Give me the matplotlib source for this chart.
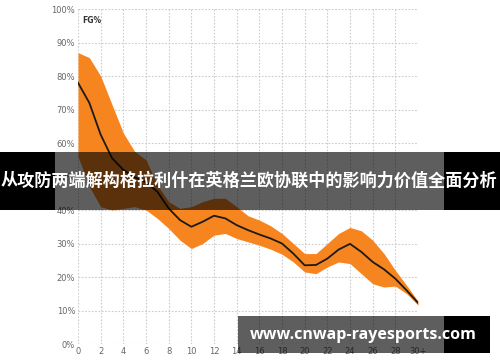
import matplotlib
matplotlib.use('Agg')
import matplotlib.pyplot as plt
from matplotlib.patches import Rectangle
import numpy as np

# shot distance (ft.), FG% center line and band edges
dist = np.arange(0, 31)
fg_mid = [78, 72, 62.5, 55.5, 52, 49.8, 48.3, 45.5, 40.5, 37, 35, 36.5, 38.3, 37.5, 35.5, 34,
          32.7, 31.5, 30, 27, 23.5, 23.6, 25.5, 28.2, 29.9, 27.5, 24.5, 22.3, 19.5, 16, 12.3]
fg_upper = [87, 85.5, 80, 71.5, 63, 57.5, 55, 47.5, 42.5, 40.5, 41, 42.5, 43.5, 43.5, 41, 38.3,
            37, 35.3, 33, 30, 27, 27, 30, 33, 34.8, 33.8, 31, 27, 22, 17.5, 12.8]
fg_lower = [56, 47, 41, 40, 40.5, 41, 40, 37.5, 34.5, 31, 28.5, 30, 32.5, 33, 31.5, 30.5,
            29.5, 28.3, 26.8, 24.5, 21.5, 21, 23, 24.5, 24, 21, 18, 17, 17.3, 15, 11.6]
x_ticks = list(range(0, 31, 2))
x_labels = [str(v) for v in range(0, 30, 2)] + ['30+']
y_ticks = list(range(0, 101, 10))
y_labels = [str(v) + '%' for v in y_ticks]

title = '从攻防两端解构格拉利什在英格兰欧协联中的影响力价值全面分析'
site = 'www.cnwap-rayesports.com'

fig = plt.figure(figsize=(5, 3.62), dpi=100)
ax = fig.add_axes([0.156, 0.0497, 0.68, 0.9253])

ax.fill_between(dist, fg_lower, fg_upper, color='#f7851f', lw=0, zorder=2)
ax.plot(dist, fg_mid, color='#1a1a1a', lw=1.3, zorder=3, solid_joinstyle='round')

ax.set_xlim(0, 30)
ax.set_ylim(0, 100)
ax.set_xticks(x_ticks)
ax.set_xticklabels(x_labels)
ax.set_yticks(y_ticks)
ax.set_yticklabels(y_labels)
ax.tick_params(length=0, labelsize=6, colors='#666666', pad=2)
for s in ax.spines.values():
    s.set_visible(False)
ax.grid(True, color='#cccccc', ls=(0, (1.5, 1.5)), lw=0.8, zorder=0)
ax.set_axisbelow(True)
ax.text(0.4, 98, 'FG%', fontsize=5.5, fontweight='bold', color='#333333', va='top', ha='left')

# title banner (semi transparent over the image, black on the sides)
W, H = 500.0, 362.0
def band(x0, x1, y0, y1, alpha):
    fig.add_artist(Rectangle((x0 / W, 1 - y1 / H), (x1 - x0) / W, (y1 - y0) / H,
                             transform=fig.transFigure, facecolor='black', alpha=alpha,
                             lw=0, zorder=10))

band(0, 55, 152, 210, 1.0)
band(55, 444, 152, 210, 0.63)
band(444, 500, 152, 210, 1.0)
fig.text(0.497, 1 - 181 / H, title, fontsize=12.3, fontweight='bold', color='white',
         family=['Noto Sans CJK SC', 'DejaVu Sans'], ha='center', va='center', zorder=11)

band(238, 444, 316, 353, 0.63)
band(444, 490, 316, 353, 1.0)
fig.text(363.5 / W, 1 - 335 / H, site, fontsize=11.5, fontweight='bold', color='white',
         family=['Open Sans', 'DejaVu Sans'], ha='center', va='center', zorder=11)

fig.savefig('out.png', dpi=100)
